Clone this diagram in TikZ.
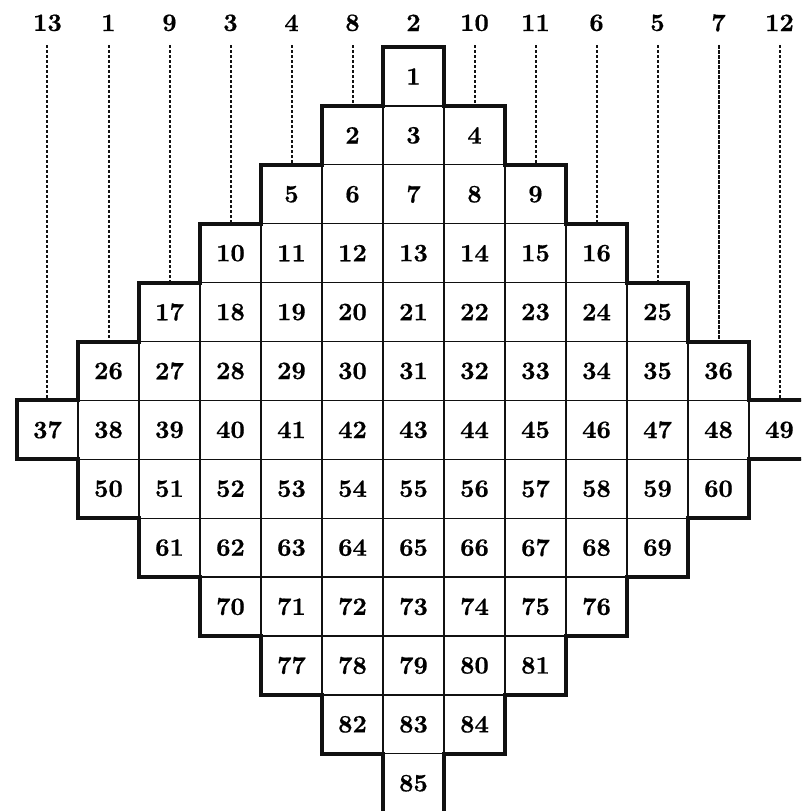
\documentclass[tikz,border=0pt]{standalone}
\usepackage{fontspec}
\usepackage{tikz}
\newfontfamily\numfont{lmroman10-bold.otf}[FakeBold=0.6]
\definecolor{ink}{HTML}{111111}
\tikzset{
  cell/.style={draw=ink,line width=1.3pt,rectangle,minimum width=61pt,minimum height=58.9pt,inner sep=0pt,outer sep=0pt,font=\fontsize{25}{25}\numfont},
  head/.style={font=\fontsize{25}{25}\numfont,inner sep=0pt,outer sep=0pt},
  guide/.style={draw=ink,line width=2pt,dash pattern=on 3.2pt off 1.8pt,shorten <=14pt},
  rim/.style={draw=ink,line width=4pt}
}

\begin{document}
\begin{tikzpicture}[x=61pt,y=-58.9pt]
  \useasboundingbox (-17pt,47pt) rectangle (784pt,-764pt);
  \clip (-17pt,47pt) rectangle (784pt,-764pt);
  % cells, row by row (row/first number)
  \foreach \r/\s in {0/1,1/2,2/5,3/10,4/17,5/26,6/37,7/50,8/61,9/70,10/77,11/82,12/85} {
    \pgfmathtruncatemacro\d{abs(6-\r)}
    \pgfmathtruncatemacro\e{12-\d}
    \foreach \c in {\d,...,\e} {
      \pgfmathtruncatemacro\n{\s+\c-\d}
      \node[cell] (cell\n) at (\c+0.5,\r+0.5) {\n};
    }
  }
  % outline
  \draw[rim] (7,0) |- (8,1) |- (9,2) |- (10,3) |- (11,4) |- (12,5) |- (13,6) -- (13,7)
    -| (12,8) -| (11,9) -| (10,10) -| (9,11) -| (8,12) -| (7,13) -- (6,13)
    |- (5,12) |- (4,11) |- (3,10) |- (2,9) |- (1,8) |- (0,7) -- (0,6)
    -| (1,5) -| (2,4) -| (3,3) -| (4,2) -| (5,1) -| (6,0) -- cycle;
  % column heads (column/label/top cell)
  \node[head] (head6) at (6.5,-0.41) {2};
  \foreach \c/\lab/\top in {0/13/37,1/1/26,2/9/17,3/3/10,4/4/5,5/8/2,7/10/4,8/11/9,9/6/16,10/5/25,11/7/36,12/12/49} {
    \node[head] (head\c) at (\c+0.5,-0.41) {\lab};
    \draw[guide] (head\c) -- (cell\top.north);
  }
\end{tikzpicture}
\end{document}
